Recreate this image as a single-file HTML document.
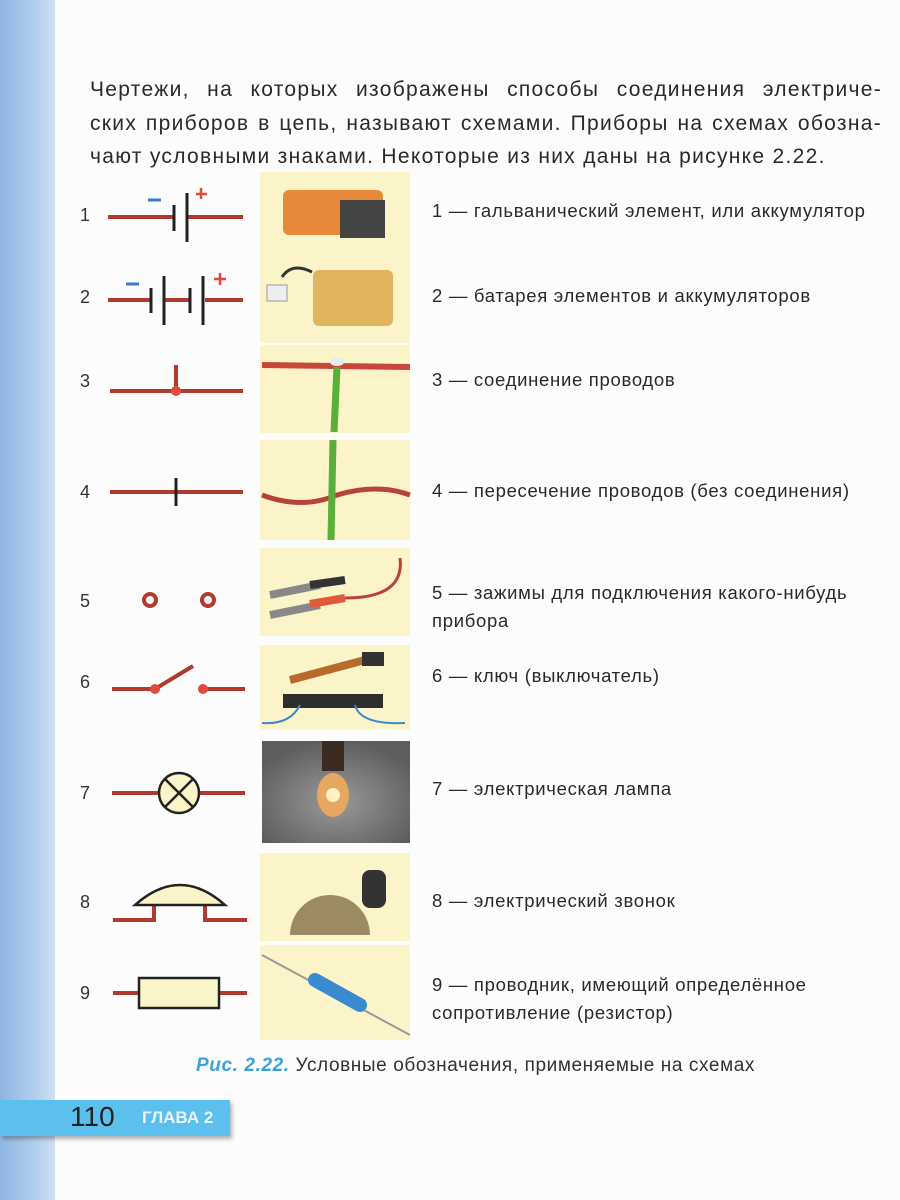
<!DOCTYPE html>
<html><head><meta charset="utf-8"><style>
body{margin:0;width:900px;height:1200px;background:#fbfcfb;position:relative;overflow:hidden;font-family:"Liberation Sans","DejaVu Sans",sans-serif;color:#2a2a2a}
.strip{position:absolute;left:0;top:0;width:55px;height:1200px;background:linear-gradient(90deg,#8fb6e4,#b7d1ef 70%,#cfe0f3)}
.para{position:absolute;left:90px;top:73px;width:792px;font-size:21px;line-height:33.5px;letter-spacing:1.3px}
.para span{display:block;text-align:justify;text-align-last:justify}
.t{position:absolute;left:432px;font-size:18.5px;line-height:28px;letter-spacing:0.7px;color:#2a2a2a}
.n{position:absolute;left:80px;font-size:18px;color:#333}
.cap{position:absolute;left:196px;top:1055px;font-size:19px;letter-spacing:0.6px;color:#333}
.cap i{color:#3aa3d8;font-weight:bold}
.tab{position:absolute;left:0;top:1100px;width:230px;height:36px;background:#5cc0ee;box-shadow:2px 3px 4px rgba(0,0,0,.3)}
.tab b{position:absolute;left:70px;top:1px;font-size:28px;font-weight:normal;color:#222}
.tab s{text-decoration:none;position:absolute;left:142px;top:8px;font-size:17px;font-weight:bold;color:#e8f6fc}
</style></head><body>
<div class="strip"></div>
<div class="para"><span>Чертежи, на которых изображены способы соединения электриче-</span><span>ских приборов в цепь, называют схемами. Приборы на схемах обозна-</span><div>чают условными знаками. Некоторые из них даны на рисунке 2.22.</div></div>
<svg style="position:absolute;left:0;top:0" width="900" height="1200">
<g fill="#fbf4c8"><rect x="260" y="172" width="150" height="171"/><rect x="260" y="345" width="150" height="88"/><rect x="260" y="440" width="150" height="100"/><rect x="260" y="548" width="150" height="88"/><rect x="260" y="645" width="150" height="85"/><rect x="260" y="853" width="150" height="88"/><rect x="260" y="945" width="150" height="95"/></g>
<defs><radialGradient id="lg" cx=".5" cy=".6" r=".6"><stop offset="0" stop-color="#9a9a9a"/><stop offset="1" stop-color="#5e5e5e"/></radialGradient></defs>
<rect x="262" y="741" width="148" height="102" fill="url(#lg)"/>
<rect x="322" y="741" width="22" height="30" fill="#3a2a20"/><ellipse cx="333" cy="795" rx="16" ry="22" fill="#e6a860"/><circle cx="333" cy="795" r="7" fill="#fff2c0"/>
<rect x="283" y="190" width="100" height="45" rx="6" fill="#e68a3a"/><rect x="340" y="200" width="45" height="38" fill="#444"/>
<path d="M282 277 q10 -15 30 -5" stroke="#333" stroke-width="3" fill="none"/><rect x="267" y="285" width="20" height="16" fill="#eee" stroke="#999"/><rect x="313" y="270" width="80" height="56" rx="6" fill="#e3b460"/>
<path d="M262 365 L410 367" stroke="#c8473a" stroke-width="6"/><ellipse cx="337" cy="362" rx="7" ry="4" fill="#dfeef0"/><path d="M337 367 L334 432" stroke="#5aae3a" stroke-width="7"/>
<path d="M262 495 q40 15 75 0 q40 -12 73 0" stroke="#b84436" stroke-width="5" fill="none"/><path d="M333 440 L331 540" stroke="#5aae3a" stroke-width="7"/>
<path d="M270 595 L320 585 M270 615 L320 605" stroke="#888" stroke-width="8"/><path d="M310 585 L345 580" stroke="#333" stroke-width="8"/><path d="M310 604 L345 598" stroke="#e05a3a" stroke-width="8"/><path d="M345 598 q60 0 55 -40" stroke="#b84436" stroke-width="3" fill="none"/>
<rect x="283" y="694" width="100" height="14" fill="#2e2e2e"/><path d="M290 680 L365 660" stroke="#b86a2a" stroke-width="8"/><rect x="362" y="652" width="22" height="14" fill="#333"/><path d="M300 705 q-10 20 -38 18 M355 705 q5 20 50 18" stroke="#3a8ad0" stroke-width="2" fill="none"/>
<path d="M290 935 a40 40 0 0 1 80 0 z" fill="#9b8a62"/><rect x="362" y="870" width="24" height="38" rx="8" fill="#333"/>
<path d="M262 955 L410 1035" stroke="#999" stroke-width="2"/><path d="M315 980 L360 1005" stroke="#3a8ad0" stroke-width="14" stroke-linecap="round"/>
<g stroke="#b03a2e" stroke-width="4" fill="none">
<path d="M108 217H173M187 217H243"/>
<path d="M108 300H150M165 300H190M205 300H243"/>
<path d="M110 391H243M176 391V365"/>
<path d="M110 492H243"/>
<circle cx="150" cy="600" r="6"/><circle cx="208" cy="600" r="6"/>
<path d="M112 689H155L193 666M203 689H245"/>
<path d="M112 793H159M200 793H245"/>
<path d="M113 920H154V898M205 898V920H247"/>
<path d="M113 993H139M219 993H247"/>
</g>
<g fill="#e04a3a"><circle cx="176" cy="391" r="5"/><circle cx="155" cy="689" r="5"/><circle cx="203" cy="689" r="5"/></g>
<g stroke="#222" stroke-width="3">
<path d="M174 205V231M187 193V242"/>
<path d="M151 288V313M164 276V325M190 288V313M203 276V325"/>
<path d="M176 478V506"/>
</g>
<path d="M148 200H161M126 284H139" stroke="#3a7ac0" stroke-width="3"/>
<path d="M201 188V199M196 194H207M220 273V285M214 279H226" stroke="#e04a3a" stroke-width="2.5"/>
<g stroke="#222" stroke-width="2.5" fill="#fbf4c8">
<circle cx="179" cy="793" r="20"/><path d="M165 779L193 807M193 779L165 807" fill="none"/>
<path d="M135 905Q180 865 225 905Z"/>
<rect x="139" y="978" width="80" height="30"/>
</g>
</svg>
<div class="n" style="top:205px">1</div><div class="n" style="top:287px">2</div><div class="n" style="top:371px">3</div><div class="n" style="top:482px">4</div><div class="n" style="top:591px">5</div><div class="n" style="top:672px">6</div><div class="n" style="top:783px">7</div><div class="n" style="top:892px">8</div><div class="n" style="top:983px">9</div>
<div class="t" style="top:197px">1 — гальванический элемент, или аккумулятор</div>
<div class="t" style="top:282px">2 — батарея элементов и аккумуляторов</div>
<div class="t" style="top:366px">3 — соединение проводов</div>
<div class="t" style="top:477px">4 — пересечение проводов (без соединения)</div>
<div class="t" style="top:579px">5 — зажимы для подключения какого-нибудь<br>прибора</div>
<div class="t" style="top:662px">6 — ключ (выключатель)</div>
<div class="t" style="top:775px">7 — электрическая лампа</div>
<div class="t" style="top:887px">8 — электрический звонок</div>
<div class="t" style="top:971px">9 — проводник, имеющий определённое<br>сопротивление (резистор)</div>
<div class="cap"><i>Рис. 2.22.</i> Условные обозначения, применяемые на схемах</div>
<div class="tab"><b>110</b><s>ГЛАВА 2</s></div>
</body></html>
